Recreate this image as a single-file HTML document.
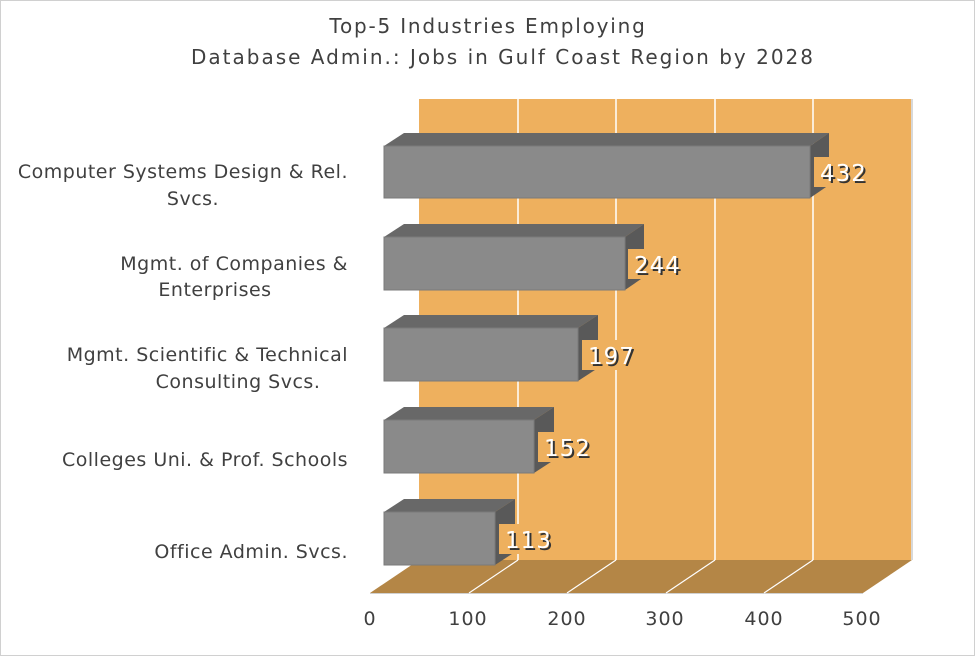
<!DOCTYPE html>
<html><head><meta charset="utf-8"><style>
html,body{margin:0;padding:0;background:#fff}
svg{display:block}
text{font-family:"DejaVu Sans","Liberation Sans",sans-serif;fill:#404040}
</style></head><body>
<svg width="975" height="656" viewBox="0 0 975 656" xmlns="http://www.w3.org/2000/svg">
<rect x="0.5" y="0.5" width="974" height="655" fill="#fff" stroke="#d0d0d0"/>
<text x="488" y="33" font-size="20" letter-spacing="1.8" text-anchor="middle">Top-5 Industries Employing</text>
<text x="503" y="64" font-size="20" letter-spacing="2" text-anchor="middle">Database Admin.: Jobs in Gulf Coast Region by 2028</text>
<rect x="419" y="99" width="493" height="461" fill="#eeb05e"/>
<line x1="912" y1="99" x2="912" y2="560" stroke="#d8d8d8" stroke-width="2"/>
<g stroke="#fff" stroke-width="1.5">
<line x1="518" y1="99" x2="518" y2="560"/>
<line x1="616" y1="99" x2="616" y2="560"/>
<line x1="715" y1="99" x2="715" y2="560"/>
<line x1="813" y1="99" x2="813" y2="560"/>
</g>
<polygon points="419,560 912,560 863,593 370,593" fill="#b48646"/>
<line x1="370" y1="593.5" x2="863" y2="593.5" stroke="#d0d0d0"/>
<g stroke="#fff" stroke-width="1.2">
<line x1="518" y1="560" x2="469" y2="593"/>
<line x1="616" y1="560" x2="567" y2="593"/>
<line x1="715" y1="560" x2="666" y2="593"/>
<line x1="813" y1="560" x2="764" y2="593"/>
</g>
<g font-size="23" letter-spacing="1">
<g>
<polygon points="384,146 404,133 829,133 810,146" fill="#686868"/>
<polygon points="810,146 829,133 829,185 810,198" fill="#595959"/>
<rect x="384" y="146" width="426" height="52" fill="#8a8a8a" stroke="#7a7a7a"/>
<rect x="814" y="157" width="52" height="30" fill="#eeb05e"/>
<text x="822" y="183" style="fill:#333">432</text><text x="820" y="181" style="fill:#fff">432</text>
</g>
<g>
<polygon points="384,237 404,224 644,224 625,237" fill="#686868"/>
<polygon points="625,237 644,224 644,277 625,290" fill="#595959"/>
<rect x="384" y="237" width="241" height="53" fill="#8a8a8a" stroke="#7a7a7a"/>
<rect x="628" y="249" width="52" height="30" fill="#eeb05e"/>
<text x="636" y="275" style="fill:#333">244</text><text x="634" y="273" style="fill:#fff">244</text>
</g>
<g>
<polygon points="384,328 404,315 598,315 578,328" fill="#686868"/>
<polygon points="578,328 598,315 598,368 578,381" fill="#595959"/>
<rect x="384" y="328" width="194" height="53" fill="#8a8a8a" stroke="#7a7a7a"/>
<rect x="582" y="340" width="52" height="30" fill="#eeb05e"/>
<text x="590" y="366" style="fill:#333">197</text><text x="588" y="364" style="fill:#fff">197</text>
</g>
<g>
<polygon points="384,420 404,407 554,407 534,420" fill="#686868"/>
<polygon points="534,420 554,407 554,460 534,473" fill="#595959"/>
<rect x="384" y="420" width="150" height="53" fill="#8a8a8a" stroke="#7a7a7a"/>
<rect x="538" y="432" width="52" height="30" fill="#eeb05e"/>
<text x="546" y="458" style="fill:#333">152</text><text x="544" y="456" style="fill:#fff">152</text>
</g>
<g>
<polygon points="384,512 404,499 515,499 495,512" fill="#686868"/>
<polygon points="495,512 515,499 515,552 495,565" fill="#595959"/>
<rect x="384" y="512" width="111" height="53" fill="#8a8a8a" stroke="#7a7a7a"/>
<rect x="499" y="524" width="52" height="30" fill="#eeb05e"/>
<text x="507" y="550" style="fill:#333">113</text><text x="505" y="548" style="fill:#fff">113</text>
</g>
</g>
<g font-size="19" letter-spacing="0.5" text-anchor="end">
<text x="348" y="178">Computer Systems Design &amp; Rel.</text>
<text x="193" y="205" text-anchor="middle">Svcs.</text>
<text x="348" y="270">Mgmt. of Companies &amp;</text>
<text x="215" y="296" text-anchor="middle">Enterprises</text>
<text x="348" y="361">Mgmt. Scientific &amp; Technical</text>
<text x="238" y="388" text-anchor="middle">Consulting Svcs.</text>
<text x="348" y="466">Colleges Uni. &amp; Prof. Schools</text>
<text x="348" y="558">Office Admin. Svcs.</text>
</g>
<g font-size="19" letter-spacing="1" text-anchor="middle">
<text x="370" y="625">0</text>
<text x="468" y="625">100</text>
<text x="567" y="625">200</text>
<text x="665" y="625">300</text>
<text x="764" y="625">400</text>
<text x="862" y="625">500</text>
</g>
</svg>
</body></html>
